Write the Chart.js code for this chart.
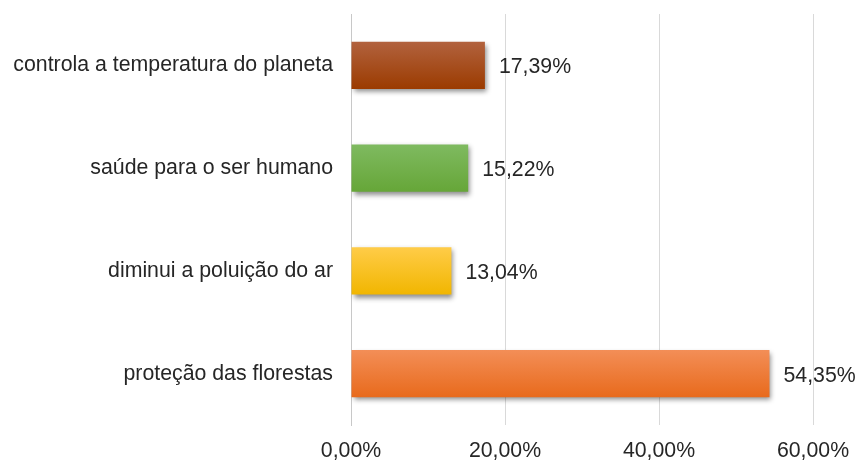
<!DOCTYPE html>
<html><head><meta charset="utf-8">
<script src="https://cdn.jsdelivr.net/npm/chart.js@4/dist/chart.umd.min.js"></script>
<style>html,body{margin:0;padding:0;background:#fff}#wrap{width:859px;height:461px}</style>
</head><body><div id="wrap"><canvas id="c" width="859" height="461"></canvas></div>
<script>
const categories = ["controla a temperatura do planeta","saúde para o ser humano","diminui a poluição do ar","proteção das florestas"];
const values = [17.39, 15.22, 13.04, 54.35];
const tickValues = [0, 20, 40, 60];
const colorTops = ["#b2623e","#7fba60","#ffcc48","#f38e57"];
const colorBottoms = ["#9b3b00","#66a638","#f1b600","#e86a1c"];

const fmt = v => v.toFixed(2).replace('.', ',') + '%';
const FONT = {family: "'Liberation Sans', Arial, sans-serif", size: 21.3};

const gradPlugin = {
  id: 'grad',
  beforeDatasetsDraw(chart) {
    const ctx = chart.ctx;
    chart.getDatasetMeta(0).data.forEach((el, i) => {
      const h = el.height;
      const g = ctx.createLinearGradient(0, el.y - h/2, 0, el.y + h/2);
      g.addColorStop(0, colorTops[i]);
      g.addColorStop(1, colorBottoms[i]);
      el.options.backgroundColor = g;
    });
    ctx.save();
    ctx.shadowColor = 'rgba(0,0,0,0.45)';
    ctx.shadowBlur = 5;
    ctx.shadowOffsetX = 2;
    ctx.shadowOffsetY = 3;
  },
  afterDatasetsDraw(chart) {
    const ctx = chart.ctx;
    ctx.restore();
    ctx.save();
    ctx.font = `${FONT.size}px ${FONT.family}`;
    ctx.fillStyle = '#262626';
    ctx.textAlign = 'left';
    ctx.textBaseline = 'middle';
    chart.getDatasetMeta(0).data.forEach((el, i) => {
      ctx.fillText(fmt(values[i]), el.x + 14, el.y + 2);
    });
    ctx.restore();
  }
};

new Chart(document.getElementById('c'), {
  type: 'bar',
  data: { labels: categories, datasets: [{ data: values, borderWidth: 0, categoryPercentage: 1, barPercentage: 0.46,
    backgroundColor: c => colorBottoms[c.dataIndex] }] },
  options: {
    indexAxis: 'y',
    responsive: false,
    animation: false,
    layout: { padding: { top: 14, right: 46, bottom: 0, left: 0 } },
    plugins: { legend: { display: false }, tooltip: { enabled: false } },
    scales: {
      x: {
        min: 0, max: 60,
        afterBuildTicks(scale) { scale.ticks = tickValues.map(v => ({value: v})); },
        afterFit(scale) { scale.height = 36; scale.paddingTop = 0; scale.paddingBottom = 0; scale.paddingLeft = 0; scale.paddingRight = 0; },
        ticks: { callback: v => fmt(v), font: FONT, color: '#262626', padding: 13, maxRotation: 0 },
        grid: { color: '#d9d9d9', lineWidth: 1, drawTicks: false },
        border: { display: false }
      },
      y: {
        afterFit(scale) { scale.width = 351; scale.paddingTop = 0; scale.paddingBottom = 0; },
        ticks: { font: FONT, color: '#262626', padding: 18 },
        grid: { display: false, drawTicks: false },
        border: { display: true, color: '#c8c8c8', width: 1 }
      }
    }
  },
  plugins: [gradPlugin]
});
</script></body></html>
